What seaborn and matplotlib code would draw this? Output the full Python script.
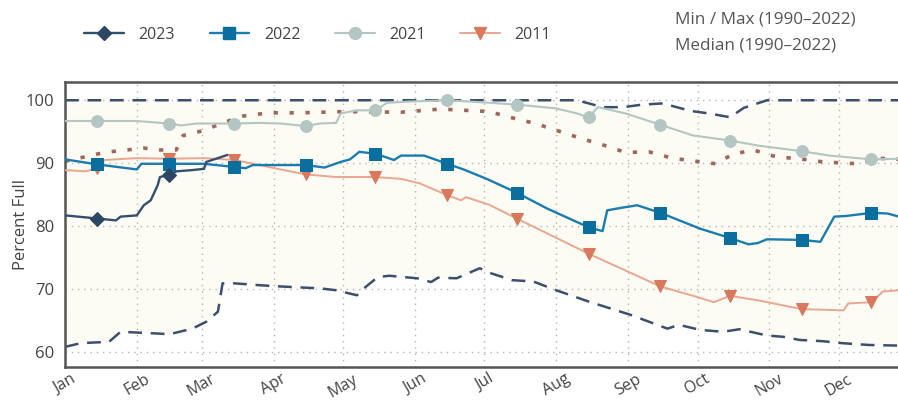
import numpy as np
import pandas as pd
import matplotlib
matplotlib.use('Agg')
import matplotlib.pyplot as plt
from matplotlib.lines import Line2D
import seaborn as sns

# ================================
# DATA (day of year -> percent full)
# ================================
month_starts = [0, 31, 59, 90, 120, 151, 181, 212, 243, 273, 304, 334]
month_labels = ['Jan', 'Feb', 'Mar', 'Apr', 'May', 'Jun',
                'Jul', 'Aug', 'Sep', 'Oct', 'Nov', 'Dec']
mark_days = [14, 45, 73, 104, 134, 165, 195, 226, 257, 287, 318, 348]

days_2023 = [0, 14, 22, 24, 31, 34, 37, 40, 41, 45, 48, 55, 60, 61, 66, 70]
pct_2023 = [81.7, 81.2, 80.9, 81.5, 81.7, 83.3, 84.1, 86.5, 87.8, 88.1,
            88.7, 88.9, 89.1, 90.2, 90.8, 91.3]

days_2022 = [0, 14, 31, 33, 45, 60, 73, 78, 81, 89, 104, 112, 119, 123, 127,
             134, 142, 145, 155, 165, 172, 182, 195, 208, 226, 232, 234, 240,
             247, 257, 274, 287, 295, 299, 303, 318, 326, 332, 337, 348, 355, 360]
pct_2022 = [90.6, 89.8, 89.0, 89.9, 89.9, 89.9, 89.4, 89.2, 89.7, 89.7, 89.7,
            89.3, 90.2, 90.6, 91.8, 91.5, 90.5, 91.2, 91.2, 89.9, 89.0, 87.5,
            85.3, 82.8, 79.8, 79.2, 82.5, 82.9, 83.3, 82.1, 79.6, 78.1, 77.1,
            77.3, 77.9, 77.8, 77.5, 81.5, 81.6, 82.1, 82.0, 81.5]

days_2021 = [0, 14, 31, 45, 50, 57, 73, 84, 93, 104, 110, 117, 119, 126, 134,
             139, 149, 165, 183, 195, 212, 221, 226, 230, 242, 257, 271, 287,
             299, 318, 330, 348, 360]
pct_2021 = [96.7, 96.7, 96.7, 96.3, 96.0, 96.3, 96.3, 96.4, 96.3, 95.9, 96.3,
            96.4, 97.9, 98.4, 98.4, 99.6, 99.8, 100.0, 99.6, 99.3, 98.7, 97.9,
            97.3, 98.9, 97.9, 96.1, 94.4, 93.6, 92.8, 91.9, 91.2, 90.6, 90.7]

days_2011 = [0, 9, 14, 17, 31, 45, 60, 73, 84, 93, 104, 117, 134, 145, 153,
             165, 171, 173, 183, 195, 226, 257, 274, 280, 287, 299, 318, 336,
             338, 348, 353, 360]
pct_2011 = [88.9, 88.7, 89.2, 90.5, 90.8, 90.7, 90.8, 90.5, 89.7, 89.0, 88.2,
            87.8, 87.8, 87.5, 86.8, 84.9, 84.1, 84.6, 83.4, 81.2, 75.6, 70.4,
            68.6, 67.9, 68.9, 68.2, 66.8, 66.6, 67.7, 67.9, 69.6, 69.8]

days_max = [0, 221, 225, 232, 241, 249, 258, 270, 278, 287, 293, 303, 360]
pct_max = [100, 100, 99.6, 98.9, 98.9, 99.3, 99.5, 98.3, 97.9, 97.3, 98.8, 100, 100]

days_min = [0, 7, 19, 24, 41, 45, 55, 61, 66, 68, 73, 84, 93, 110, 117, 126,
            129, 135, 140, 152, 158, 161, 169, 179, 183, 193, 202, 212, 226,
            244, 260, 265, 274, 284, 291, 303, 310, 317, 327, 335, 347, 360]
pct_min = [60.8, 61.4, 61.6, 63.2, 62.9, 62.8, 63.7, 64.8, 66.4, 70.9, 70.9,
           70.6, 70.4, 70.1, 69.8, 69.0, 70.1, 71.9, 72.1, 71.7, 71.1, 71.8,
           71.7, 73.3, 72.6, 71.4, 71.2, 69.8, 68.0, 65.9, 63.7, 64.3, 63.5,
           63.2, 63.6, 62.6, 62.4, 61.9, 61.7, 61.4, 61.1, 61.0]

days_med = [0, 17, 34, 41, 48, 51, 60, 68, 77, 88, 102, 121, 145, 162, 183,
            193, 203, 213, 223, 233, 242, 252, 262, 270, 281, 288, 297, 307,
            317, 327, 342, 350, 360]
pct_med = [90.3, 91.7, 92.4, 92.1, 92.1, 94.4, 95.2, 96.4, 97.5, 98.0, 98.0,
           98.2, 98.1, 98.6, 98.2, 97.2, 96.3, 95.1, 93.9, 92.8, 91.7, 91.8,
           90.8, 90.4, 89.9, 91.4, 92.1, 91.0, 90.7, 90.2, 89.9, 90.8, 90.6]

# ================================
# STYLE
# ================================
sns.set_theme(style='white')
plt.rcParams['font.family'] = ['Open Sans', 'DejaVu Sans']
text_col = '#444444'
band_col = '#3d4f6e'
med_col = '#a0675a'

fig = plt.figure(figsize=(8.98, 4.03), dpi=100)
ax = fig.add_axes([65 / 898, 1 - 367 / 403, 1 - 65 / 898, (367 - 82) / 403])

# cream band between min and max
grid_days = np.arange(0, 361)
lo = np.interp(grid_days, days_min, pct_min)
hi = np.interp(grid_days, days_max, pct_max)
ax.fill_between(grid_days, lo, hi, color='#fcfbf4', lw=0, zorder=0.5)

sns.lineplot(x=days_max, y=pct_max, ax=ax, color=band_col, lw=1.8,
             linestyle=(0, (5.5, 3.5)), zorder=2)
sns.lineplot(x=days_min, y=pct_min, ax=ax, color=band_col, lw=1.8,
             linestyle=(0, (5.5, 3.5)), zorder=2)
sns.lineplot(x=days_med, y=pct_med, ax=ax, color=med_col, lw=2.6,
             linestyle=(0, (1.2, 3.2)), zorder=2)


def every(days):
    return [i for i, d in enumerate(days) if d in mark_days]


series = [
    ('2011', days_2011, pct_2011, '#eba68e', '#d9785c', 'v', 8, 1.4),
    ('2021', days_2021, pct_2021, '#b4c6c3', '#b4c6c3', 'o', 8.5, 1.5),
    ('2022', days_2022, pct_2022, '#1a7db0', '#0a6e9e', 's', 8, 1.7),
    ('2023', days_2023, pct_2023, '#34506f', '#2c4663', 'D', 7.5, 1.7),
]
for name, d, p, lc, mc, mk, ms, lw in series:
    sns.lineplot(x=d, y=p, ax=ax, color=lc, lw=lw, marker=mk, markersize=ms,
                 markerfacecolor=mc, markeredgecolor=mc, markevery=every(d),
                 zorder=3)

# ================================
# AXES
# ================================
ax.set_xlim(0, 359.5)
ax.set_ylim(57.6, 102.9)
ax.set_xticks(month_starts)
ax.set_xticklabels(month_labels, rotation=30, ha='center', fontsize=11.5,
                   color=text_col)
ax.set_yticks([60, 70, 80, 90, 100])
ax.tick_params(axis='y', labelsize=12, labelcolor=text_col, length=0, pad=8)
ax.tick_params(axis='x', length=0, pad=3)
ax.grid(True, color='#b5b5b5', linestyle=(0, (1, 3.5)), lw=1)
ax.set_ylabel('Percent Full', fontsize=12, color=text_col)
ax.yaxis.set_label_coords(-0.043, 0.5)
ax.set_xlabel('')
for side in ['left', 'top', 'bottom']:
    ax.spines[side].set_color('#555555')
    ax.spines[side].set_linewidth(1.8)
ax.spines['right'].set_visible(False)

# ================================
# LEGEND
# ================================
handles = []
labels = []
for name, d, p, lc, mc, mk, ms, lw in reversed(series):
    handles.append(Line2D([], [], color=lc, lw=lw, marker=mk, markersize=ms,
                          markerfacecolor=mc, markeredgecolor=mc))
    labels.append(name)
fig.legend(handles, labels, loc='center left', bbox_to_anchor=(70 / 898, 1 - 35 / 403),
           ncol=4, frameon=False, fontsize=11.5, handlelength=2.5,
           handletextpad=0.9, columnspacing=2.15, labelcolor=text_col)

fig.text(675 / 898, 1 - 20 / 403, 'Min / Max (1990–2022)', fontsize=12.3,
         color='#555555', va='center', ha='left')
fig.text(675 / 898, 1 - 46 / 403, 'Median (1990–2022)', fontsize=12.3,
         color='#555555', va='center', ha='left')

fig.savefig('out.png', dpi=100)
